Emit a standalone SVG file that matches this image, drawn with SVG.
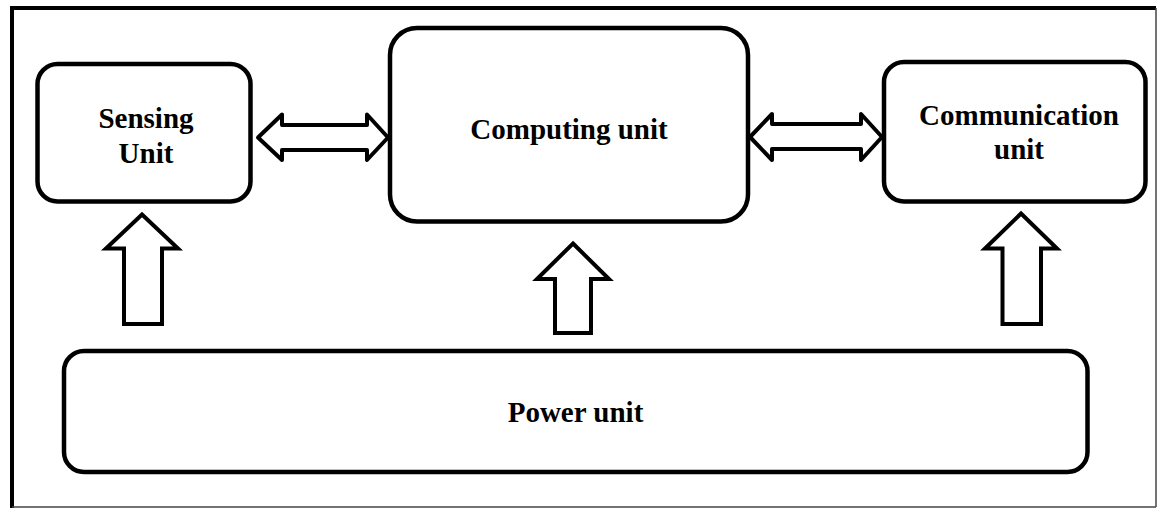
<svg xmlns="http://www.w3.org/2000/svg" width="1159" height="508" viewBox="0 0 1159 508">
<style>
.box{fill:#fff;stroke:#000;stroke-width:4.5}
.lbl{font-family:"Liberation Serif","Times New Roman",serif;font-weight:bold;font-size:29px;fill:#000;text-anchor:middle}
.arr{fill:#fff;stroke:#000;stroke-width:4}
.dbl{stroke-linejoin:round}
.up{stroke-linejoin:miter}
</style>
<rect x="0" y="0" width="1159" height="508" fill="#fff"/>
<g id="frame">
<line x1="12" y1="8" x2="1156" y2="8" stroke="#000" stroke-width="4"/>
<line x1="12" y1="6" x2="12" y2="508" stroke="#000" stroke-width="4"/>
<line x1="1156" y1="8" x2="1156" y2="507" stroke="#444" stroke-width="1.5"/>
<line x1="12" y1="507" x2="1156" y2="507" stroke="#444" stroke-width="1.5"/>
</g>
<g id="connectors">
<path class="arr dbl" d="M258,137.5 L282,114.5 L282,125 L367,125 L367,114.5 L388,137.5 L367,160 L367,150 L282,150 L282,160 Z"/>
<path class="arr dbl" d="M750,137 L772,114 L772,124 L861,124 L861,114 L882,137 L861,160 L861,149 L772,149 L772,160 Z"/>
<path class="arr up" d="M142,214.5 L178,248.5 L162,248.5 L162,324 L124,324 L124,248.5 L106,248.5 Z"/>
<path class="arr up" d="M573,243.5 L609,279 L591,279 L591,333 L555,333 L555,279 L537,279 Z"/>
<path class="arr up" d="M1021,213.5 L1057,248.5 L1041,248.5 L1041,324 L1002.5,324 L1002.5,248.5 L985,248.5 Z"/>
</g>
<g id="sensing">
<rect class="box" x="37.5" y="64" width="213" height="137.5" rx="20"/>
<text class="lbl" x="146" y="128">Sensing</text>
<text class="lbl" x="146" y="163">Unit</text>
</g>
<g id="computing">
<rect class="box" x="390" y="28" width="358" height="193.5" rx="27"/>
<text class="lbl" x="569" y="139">Computing unit</text>
</g>
<g id="communication">
<rect class="box" x="884" y="62" width="261.5" height="139.5" rx="20"/>
<text class="lbl" x="1019" y="125">Communication</text>
<text class="lbl" x="1019" y="159">unit</text>
</g>
<g id="power">
<rect class="box" x="64" y="351" width="1023.5" height="121" rx="20"/>
<text class="lbl" x="575.5" y="422">Power unit</text>
</g>
</svg>
